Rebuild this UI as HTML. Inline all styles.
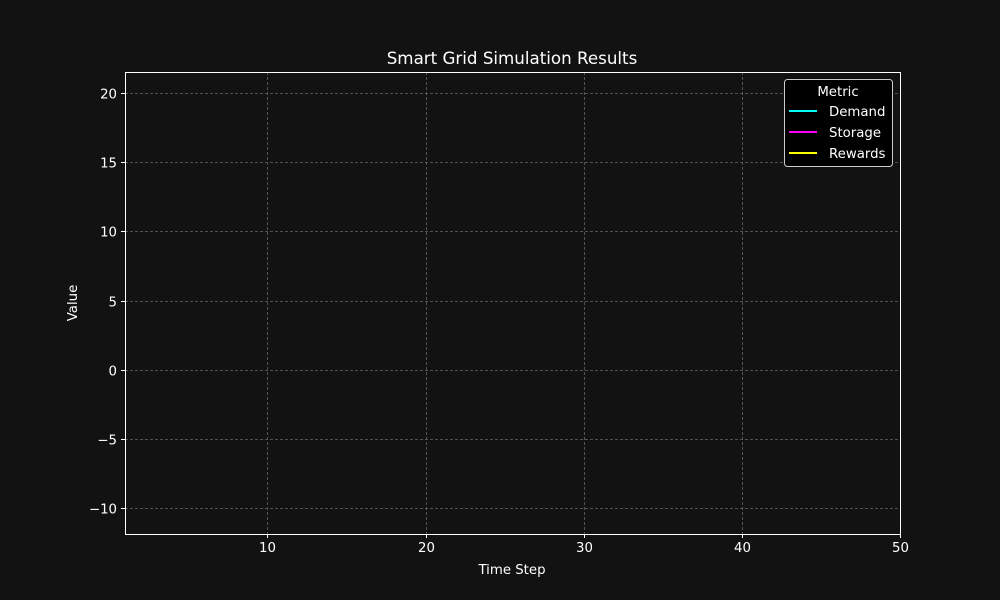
<!DOCTYPE html>
<html><head><meta charset="utf-8"><style>
html,body{margin:0;padding:0;background:#121212;}
svg{display:block;font-family:"DejaVu Sans","Liberation Sans",sans-serif;}
</style></head><body>
<svg id="chart" width="1000" height="600" viewBox="0 0 1000 600">
<rect width="1000" height="600" fill="#121212"/>
<g id="grid"></g>
<g id="series"></g>
<rect x="125.5" y="72.5" width="775" height="462" fill="none" stroke="#ffffff" stroke-width="1"/>
<g id="ticks"></g>
<text x="512" y="64" fill="#ffffff" font-size="16.7" text-anchor="middle">Smart Grid Simulation Results</text>
<text x="512" y="574" fill="#ffffff" font-size="13.3" text-anchor="middle">Time Step</text>
<text x="77" y="303" fill="#ffffff" font-size="13.3" text-anchor="middle" transform="rotate(-90 77 303)">Value</text>
<g>
<rect x="784.5" y="79.5" width="108" height="87" rx="3" fill="#000000" stroke="#cccccc" stroke-width="1"/>
<text x="838" y="96" fill="#ffffff" font-size="13.3" text-anchor="middle">Metric</text>
<line x1="789" y1="111" x2="817" y2="111" stroke="#00ffff" stroke-width="2"/>
<text x="829" y="116" fill="#ffffff" font-size="13.3">Demand</text>
<line x1="789" y1="132" x2="817" y2="132" stroke="#ff00ff" stroke-width="2"/>
<text x="829" y="137" fill="#ffffff" font-size="13.3">Storage</text>
<line x1="789" y1="153" x2="817" y2="153" stroke="#ffff00" stroke-width="2"/>
<text x="829" y="158" fill="#ffffff" font-size="13.3">Rewards</text>
</g>
</svg>
<script>
const xTicks = [10, 20, 30, 40, 50];
const yTicks = [-10, -5, 0, 5, 10, 15, 20];
const yTickLabels = ["\u221210", "\u22125", "0", "5", "10", "15", "20"];
const timeSteps = [];
const demandValues = [];
const storageValues = [];
const rewardsValues = [];

const X0 = 1, X1 = 50, Y0 = -11.88, Y1 = 21.52;
const L = 125, R = 900, T = 72, B = 534;
function xs(v){ return L + (v - X0) / (X1 - X0) * (R - L); }
function ys(v){ return B - (v - Y0) / (Y1 - Y0) * (B - T); }
const NS = "http://www.w3.org/2000/svg";
const grid = document.getElementById('grid');
const ticks = document.getElementById('ticks');
const series = document.getElementById('series');
function mk(tag, attrs, parent){ const e = document.createElementNS(NS, tag); for (const k in attrs) e.setAttribute(k, attrs[k]); parent.appendChild(e); return e; }

xTicks.forEach(function(t){
  const x = Math.round(xs(t)) + 0.5;
  const g = mk('line', {x1:x, y1:T, x2:x, y2:B, stroke:'#666666', 'stroke-width':0.8, 'stroke-dasharray':'3,2'}, grid);
  
  
  const tk = mk('line', {x1:x, y1:B, x2:x, y2:B+4, stroke:'#ffffff', 'stroke-width':1}, ticks);
  
  
  const lb = mk('text', {x:x, y:B+18, fill:'#ffffff', 'font-size':13.3, 'text-anchor':'middle'}, ticks);
  lb.textContent = String(t);
  
  
});
yTicks.forEach(function(t, i){
  const y = Math.round(ys(t)) + 0.5;
  const g = mk('line', {x1:L, y1:y, x2:R, y2:y, stroke:'#666666', 'stroke-width':0.8, 'stroke-dasharray':'3,2'}, grid);
  
  
  const tk = mk('line', {x1:L-4, y1:y, x2:L, y2:y, stroke:'#ffffff', 'stroke-width':1}, ticks);
  
  
  const lb = mk('text', {x:L-8, y:y+5, fill:'#ffffff', 'font-size':13.3, 'text-anchor':'end'}, ticks);
  lb.textContent = yTickLabels[i];
  
  
});
function drawLine(vals, color, name){
  if (!vals.length) return;
  const pts = vals.map(function(v, i){ return xs(timeSteps[i]) + ',' + ys(v); }).join(' ');
  const p = mk('polyline', {points:pts, fill:'none', stroke:color, 'stroke-width':1.5}, series);
  
  
}
drawLine(demandValues, '#00ffff', 'demand-line');
drawLine(storageValues, '#ff00ff', 'storage-line');
drawLine(rewardsValues, '#ffff00', 'rewards-line');
</script>
</body></html>
